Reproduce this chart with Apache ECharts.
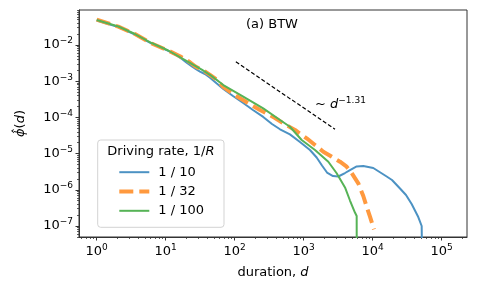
<!DOCTYPE html>
<html><head><meta charset="utf-8">
<script src="https://cdn.jsdelivr.net/npm/echarts@6/dist/echarts.min.js"></script>
<style>html,body{margin:0;padding:0;background:#fff}#c{width:477px;height:291px}</style>
</head><body><div id="c"></div>
<script>
// ---- data ----
const seriesNames = ['1 / 10', '1 / 32', '1 / 100'];
const d10   = [1, 2.06, 3.59, 6.27, 10.9, 14.5, 17.2, 19.7, 24.0, 27.5, 31.4, 37.0, 43.9, 55.0, 68.4, 94.5, 133, 184, 259, 347, 454, 632, 883, 1233, 1542, 1841, 2178, 2661, 3170, 3972, 4688, 5861, 7311, 10200, 15960, 19050, 24900, 30400, 36700, 45800, 51300, 52700];
const phi10 = [0.0475, 0.0314, 0.0195, 0.0110, 0.00690, 0.00510, 0.00410, 0.00335, 0.00255, 0.00215, 0.00185, 0.00158, 0.00125, 8.6e-4, 6.09e-4, 3.90e-4, 2.50e-4, 1.60e-4, 1.03e-4, 6.57e-5, 4.70e-5, 3.40e-5, 2.10e-5, 1.26e-5, 7.80e-6, 4.70e-6, 3.00e-6, 2.40e-6, 2.33e-6, 2.91e-6, 3.52e-6, 4.41e-6, 4.54e-6, 4.00e-6, 2.33e-6, 1.87e-6, 1.09e-6, 7.18e-7, 4.05e-7, 1.77e-7, 1.0e-7, 1e-9];
const d32   = [1, 2.06, 3.59, 6.27, 10.9, 16.1, 22.5, 27.0, 31.4, 37.0, 43.9, 55.0, 67.7, 94.5, 132, 184, 233, 294, 384, 506, 748, 1104, 1459, 1923, 2661, 3357, 4200, 4963, 6185, 7311, 8185, 9140, 10440];
const phi32 = [0.0500, 0.0322, 0.0200, 0.0110, 0.00700, 0.00490, 0.00335, 0.00255, 0.00220, 0.00185, 0.00150, 0.00110, 7.1e-4, 4.43e-4, 3.03e-4, 2.07e-4, 1.60e-4, 1.28e-4, 9.62e-5, 6.87e-5, 4.49e-5, 2.65e-5, 1.73e-5, 1.13e-5, 7.80e-6, 5.97e-6, 4.35e-6, 2.91e-6, 1.51e-6, 6.75e-7, 3.41e-7, 1.81e-7, 8.11e-8];
const d100   = [1, 2.06, 3.59, 6.27, 10.9, 19.1, 26.0, 33.3, 45.0, 68.4, 133, 259, 454, 632, 935, 1459, 2275, 3006, 3972, 4688, 5534, 5861, 5888];
const phi100 = [0.0491, 0.0324, 0.0201, 0.01135, 0.00705, 0.00385, 0.00275, 0.00210, 0.00145, 7.85e-4, 3.73e-4, 1.78e-4, 8.47e-5, 5.53e-5, 2.38e-5, 1.26e-5, 5.97e-6, 2.86e-6, 1.16e-6, 5.06e-7, 2.36e-7, 1.89e-7, 1e-9];
const guideD   = [104, 2845];
const guidePhi = [3.46e-3, 4.69e-5];
const xTickExps = [0, 1, 2, 3, 4, 5];
const yTickExps = [-7, -6, -5, -4, -3, -2];
const xRange = [0.554, 232800];
const yRange = [4.97e-8, 0.0927];

// ---- helpers ----
const L = Math.log10;
const toLog = (xs, ys) => xs.map((x, i) => [L(x), L(ys[i])]);
function minorTicks(lo, hi) {
  const out = [];
  for (let e = Math.floor(lo) - 1; e <= Math.ceil(hi); e++)
    for (let m = 2; m <= 9; m++) { const v = e + L(m); if (v > lo && v < hi) out.push(v); }
  return out;
}
const FONT = 'DejaVu Sans';
const AX = '#333';
const C10 = '#4c92c3', C32 = '#ff993e', C100 = '#56b356';
const xMin = L(xRange[0]), xMax = L(xRange[1]);
const yMin = L(yRange[0]), yMax = L(yRange[1]);
const supRich = {
  b: { fontSize: 13, fontFamily: FONT, color: '#000' },
  s: { fontSize: 9, fontFamily: FONT, color: '#000', verticalAlign: 'bottom', padding: [0, 0, 8, 0] }
};
function fmt(v) { const e = Math.round(v); return '{b|10}{s|' + (e < 0 ? '\u2212' + (-e) : e) + '}'; }

const baseAxis = (min, max) => ({ type: 'value', min, max, splitLine: { show: false } });
const styles = [
  { color: C10, width: 2, type: 'solid' },
  { color: C32, width: 4, type: [14, 6] },
  { color: C100, width: 2, type: 'solid' }
];

const option = {
  animation: false,
  backgroundColor: '#fff',
  grid: { left: 79, top: 10, right: 10, bottom: 54, show: true, borderColor: AX, borderWidth: 1 },
  xAxis: [
    Object.assign(baseAxis(xMin, xMax), {
      position: 'bottom',
      axisLine: { show: true, onZero: false, lineStyle: { color: AX, width: 1 } },
      axisTick: { show: true, customValues: xTickExps, length: 3.5, lineStyle: { color: AX, width: 1 } },
      axisLabel: { customValues: xTickExps, formatter: fmt, rich: supRich, margin: 6 },
      name: 'duration, {i|d}', nameLocation: 'middle', nameGap: 29,
      nameTextStyle: { fontSize: 13, fontFamily: FONT, color: '#000', rich: { i: { fontSize: 13, fontFamily: FONT, fontStyle: 'italic', color: '#000' } } }
    }),
    Object.assign(baseAxis(xMin, xMax), {
      position: 'bottom', offset: 0,
      axisLine: { show: false, onZero: false },
      axisTick: { show: true, customValues: minorTicks(xMin, xMax), length: 2, lineStyle: { color: AX, width: 0.8 } },
      axisLabel: { show: false }
    })
  ],
  yAxis: [
    Object.assign(baseAxis(yMin, yMax), {
      position: 'left',
      axisLine: { show: true, onZero: false, lineStyle: { color: AX, width: 1 } },
      axisTick: { show: true, customValues: yTickExps, length: 3.5, lineStyle: { color: AX, width: 1 } },
      axisLabel: { customValues: yTickExps, formatter: fmt, rich: supRich, margin: 6 },
      name: '{i|\u03D5\u0302}({i|d})', nameLocation: 'middle', nameGap: 52, nameRotate: 90,
      nameTextStyle: { fontSize: 13, fontFamily: FONT, color: '#000', rich: { i: { fontSize: 13, fontFamily: FONT, fontStyle: 'italic', color: '#000' } } }
    }),
    Object.assign(baseAxis(yMin, yMax), {
      position: 'left', offset: 0,
      axisLine: { show: false, onZero: false },
      axisTick: { show: true, customValues: minorTicks(yMin, yMax), length: 2, lineStyle: { color: AX, width: 0.8 } },
      axisLabel: { show: false }
    })
  ],
  legend: {
    data: seriesNames.map((n, i) => ({ name: n, lineStyle: styles[i], itemStyle: { opacity: 0, borderWidth: 0 } })),
    orient: 'vertical', left: 117.3, top: 165.7, padding: 0,
    itemWidth: 30, itemHeight: 14, itemGap: 6.3,
    itemStyle: { opacity: 0, borderWidth: 0 },
    textStyle: { fontFamily: FONT, fontSize: 13, color: '#000', padding: [0, 0, 0, 4] }
  },
  graphic: [
    { type: 'rect', z: 3, shape: { x: 97.7, y: 140, width: 126.3, height: 87.3, r: 3 },
      style: { fill: 'rgba(255,255,255,0.8)', stroke: '#d3d3d3', lineWidth: 1 } },
    { type: 'text', z: 5, x: 160.9, y: 151.7,
      style: { text: 'Driving rate, 1/{i|R}', fontFamily: FONT, fontSize: 13, fill: '#000', align: 'center', verticalAlign: 'middle',
        rich: { i: { fontFamily: FONT, fontSize: 13, fontStyle: 'italic', fill: '#000' } } } },
    { type: 'text', z: 5, x: 246, y: 25,
      style: { text: '(a) BTW', fontFamily: FONT, fontSize: 13, fill: '#000', align: 'left', verticalAlign: 'middle' } },
    { type: 'text', z: 5, x: 315, y: 105,
      style: { text: '~ {i|d}{s|\u22121.31}', fontFamily: FONT, fontSize: 13, fill: '#000', align: 'left', verticalAlign: 'middle',
        rich: { i: { fontFamily: FONT, fontSize: 13, fontStyle: 'italic', fill: '#000' },
                s: { fontFamily: FONT, fontSize: 9, fill: '#000', verticalAlign: 'bottom', padding: [0, 0, 8, 0] } } } }
  ],
  series: [
    { type: 'line', name: seriesNames[0], data: toLog(d10, phi10), symbol: 'none', clip: true, z: 2,
      lineStyle: styles[0], itemStyle: { color: C10 } },
    { type: 'line', name: seriesNames[1], data: toLog(d32, phi32), symbol: 'none', clip: true, z: 2,
      lineStyle: styles[1], itemStyle: { color: C32 } },
    { type: 'line', name: seriesNames[2], data: toLog(d100, phi100), symbol: 'none', clip: true, z: 2,
      lineStyle: styles[2], itemStyle: { color: C100 } },
    { type: 'line', name: 'guide', data: toLog(guideD, guidePhi), symbol: 'none', clip: true, z: 2,
      lineStyle: { color: '#000', width: 1.2, type: [4, 2.2] }, itemStyle: { color: '#000' } }
  ]
};
const chart = echarts.init(document.getElementById('c'), null, { renderer: 'canvas' });
chart.setOption(option);
</script>
</body></html>
